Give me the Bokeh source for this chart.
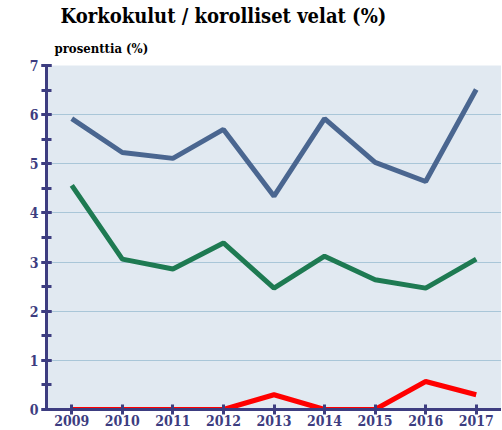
from bokeh.plotting import figure
from bokeh.models import Range1d, SingleIntervalTicker, FixedTicker, Title
from bokeh.embed import file_html
from bokeh.resources import INLINE

years = [2009, 2010, 2011, 2012, 2013, 2014, 2015, 2016, 2017]
series_blue = [5.92, 5.23, 5.11, 5.70, 4.34, 5.92, 5.03, 4.64, 6.51]
series_green = [4.56, 3.06, 2.86, 3.39, 2.47, 3.12, 2.64, 2.47, 3.06]
series_red = [0.0, 0.0, 0.0, 0.0, 0.30, 0.0, 0.0, 0.57, 0.30]

AXIS = "#3d3d80"
SERIF = "DejaVu Serif Condensed"

p = figure(width=501, height=428, output_backend="svg", toolbar_location=None,
           x_range=Range1d(2008.5, 2017.5), y_range=Range1d(0, 7),
           min_border_left=46, min_border_right=0, min_border_bottom=0, min_border_top=0)

p.title.text = "Korkokulut / korolliset velat (%)"
p.title.text_font = SERIF
p.title.text_font_size = "20px"
p.title.text_font_style = "bold"
p.title.text_color = "black"
p.title.offset = 14
p.title.standoff = 3

sub = Title(text="prosenttia (%)", text_font=SERIF, text_font_size="13px",
            text_font_style="bold", text_color="black", offset=8, standoff=19)
p.add_layout(sub, "above")

p.background_fill_color = "#e1e9f1"
p.border_fill_color = "white"
p.outline_line_color = None

p.xgrid.grid_line_color = None
p.ygrid.grid_line_color = "#a9c6d8"
p.ygrid.grid_line_width = 1

p.yaxis.ticker = SingleIntervalTicker(interval=1, num_minor_ticks=2)
p.xaxis.ticker = FixedTicker(ticks=years)

for ax in (p.xaxis, p.yaxis):
    ax.axis_line_color = AXIS
    ax.axis_line_width = 3
    ax.major_tick_line_color = AXIS
    ax.major_tick_line_width = 3
    ax.major_label_text_font = SERIF
    ax.major_label_text_font_style = "bold"
    ax.major_label_text_color = AXIS
    ax.major_label_text_font_size = "14px"
    ax.axis_label_standoff = 0

p.yaxis.major_tick_in = 5
p.yaxis.major_tick_out = 5
p.yaxis.minor_tick_in = 5
p.yaxis.minor_tick_out = 5
p.yaxis.minor_tick_line_color = AXIS
p.yaxis.minor_tick_line_width = 3
p.yaxis.major_label_standoff = 3

p.xaxis.major_tick_in = 5
p.xaxis.major_tick_out = 5
p.xaxis.minor_tick_line_color = None
p.xaxis.major_label_standoff = 0

p.line(years, series_blue, line_color="#4a6690", line_width=5)
p.line(years, series_green, line_color="#1e7a52", line_width=5)
p.line(years, series_red, line_color="#ff0000", line_width=5)

open("out.html", "w").write(file_html(p, INLINE))
